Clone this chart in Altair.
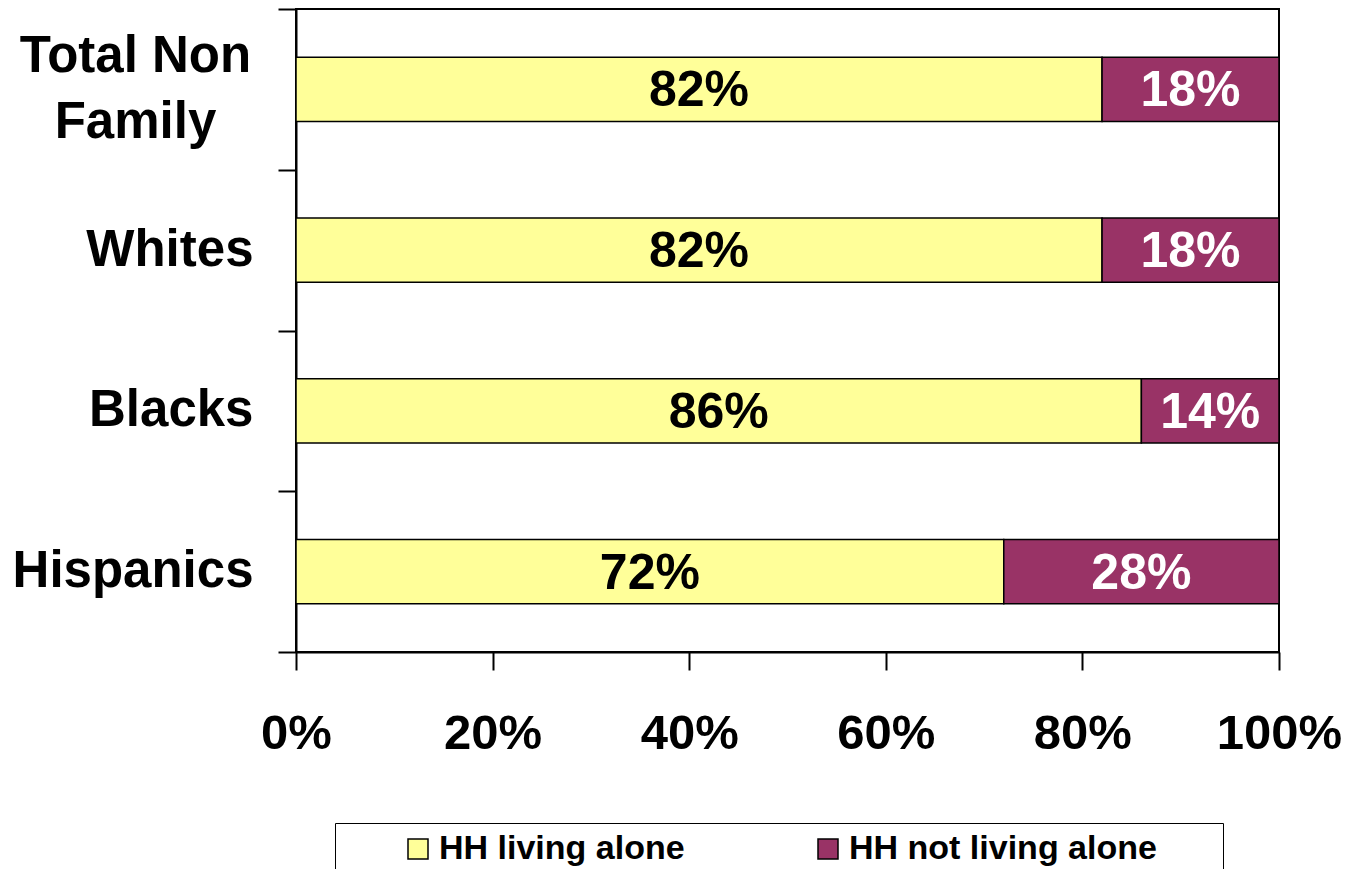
import altair as alt
import pandas as pd

groups = ["Total Non Family", "Whites", "Blacks", "Hispanics"]
series = ["HH living alone", "HH not living alone"]
alone = [82, 82, 86, 72]
not_alone = [18, 18, 14, 28]
colors = ["#FFFF99", "#993366"]
text_colors = ["#000000", "#FFFFFF"]
x_ticks = [0, 20, 40, 60, 80, 100]

rows = []
for g, a, n in zip(groups, alone, not_alone):
    rows.append({"group": g, "series": series[0], "value": a, "order": 0})
    rows.append({"group": g, "series": series[1], "value": n, "order": 1})
df = pd.DataFrame(rows)

FONT = "Liberation Sans"
TWO_LINE = "datum.value == 'Total Non Family'"

base = alt.Chart(df).transform_stack(
    stack="value", groupby=["group"], as_=["x0", "x1"],
    sort=[alt.SortField("order", order="ascending")]
).transform_calculate(mid="(datum.x0 + datum.x1) / 2")

y_enc = alt.Y(
    "group:N", sort=groups, title=None,
    scale=alt.Scale(paddingInner=0, paddingOuter=0),
    axis=alt.Axis(
        tickBand="extent", tickSize=18, tickColor="black", tickWidth=2,
        domainColor="black", domainWidth=2,
        labelFont=FONT, labelFontSize=51, labelFontWeight="bold", labelColor="black",
        labelLimit=0, labelLineHeight=66, labelBaseline="middle",
        labelAlign={"condition": {"test": TWO_LINE, "value": "center"}, "value": "right"},
        labelPadding={"condition": {"test": TWO_LINE, "value": 143}, "value": 25},
        labelOffset={"condition": {"test": TWO_LINE, "value": -33}, "value": 0},
        labelExpr="datum.value == 'Total Non Family' ? ['Total Non', 'Family'] : datum.label",
    ),
)

x_scale = alt.Scale(domain=[0, 100], nice=False, zero=True)

bars = base.mark_bar(height={"band": 0.4}, stroke="black", strokeWidth=1.5).encode(
    x=alt.X("x0:Q", scale=x_scale, title=None,
            axis=alt.Axis(values=x_ticks, tickSize=18, tickColor="black", tickWidth=2,
                          domainColor="black", domainWidth=2, grid=False,
                          labelFont=FONT, labelFontSize=49, labelFontWeight="bold",
                          labelColor="black", labelPadding=39, labelFlush=False,
                          labelOverlap=False,
                          labelExpr="datum.value + '%'")),
    x2="x1:Q",
    y=y_enc,
    color=alt.Color("series:N", scale=alt.Scale(domain=series, range=colors),
                    legend=alt.Legend(
                        title="\u00a0", titleOrient="left", titlePadding=57, titleFontSize=10,
                        orient="none", legendX=39, legendY=814, direction="horizontal",
                        strokeColor="black", padding=9, fillColor="white",
                        symbolType="square", symbolSize=400, symbolStrokeColor="black",
                        symbolStrokeWidth=1.5, symbolOpacity=1,
                        labelFont=FONT, labelFontSize=34, labelFontWeight="bold",
                        labelColor="black", labelOffset=4, columnPadding=69,
                        labelLimit=0,
                        labelExpr="datum.label + '\u00a0\u00a0\u00a0\u00a0\u00a0\u00a0\u200b'",
                    )),
)

labels = base.mark_text(font=FONT, fontSize=50, fontWeight="bold", baseline="middle",
                        align="center", dy=2).encode(
    x=alt.X("mid:Q", scale=x_scale),
    y=alt.Y("group:N", sort=groups),
    text=alt.Text("label:N"),
    color=alt.Color("series:N", scale=alt.Scale(domain=series, range=text_colors), legend=None),
).transform_calculate(label="datum.value + '%'")

chart = alt.layer(bars, labels).resolve_scale(color="independent").properties(
    width=983, height=643,
    autosize=alt.AutoSizeParams(type="none"),
    padding={"left": 288, "top": 1, "right": 62, "bottom": 217},
).configure_view(stroke="black", strokeWidth=2)

chart.save("out.html", embed_options={"renderer": "svg", "actions": False})
